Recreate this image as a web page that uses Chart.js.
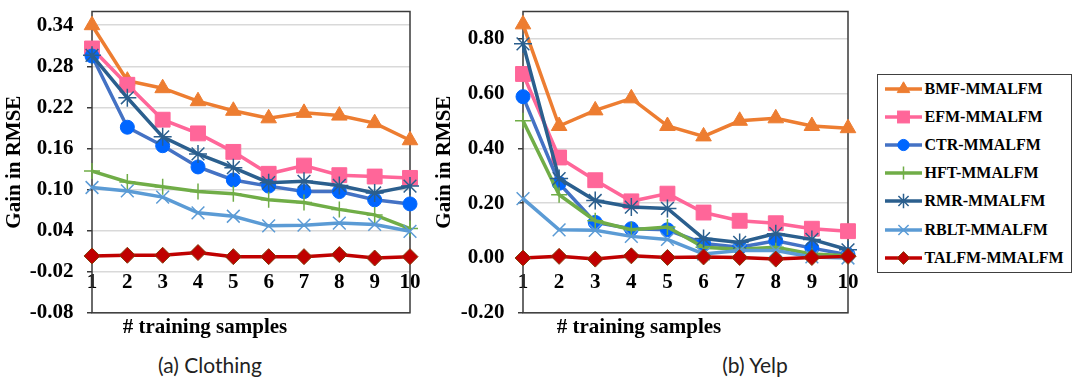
<!DOCTYPE html>
<html><head><meta charset="utf-8">
<script src="https://cdn.jsdelivr.net/npm/chart.js@4.4.1/dist/chart.umd.min.js"></script>
<style>
html,body{margin:0;padding:0;background:#fff;width:1078px;height:385px;overflow:hidden;position:relative;}
#wa{position:absolute;left:0;top:0;width:430px;height:340px;}
#wb{position:absolute;left:430px;top:0;width:440px;height:340px;}
.cap{position:absolute;top:352px;font-family:Lato,"Open Sans",sans-serif;font-size:21px;color:#222;transform:translateX(-50%);white-space:nowrap;}
#legend{position:absolute;left:877px;top:74px;width:195px;height:199px;border:1.5px solid #404040;box-sizing:border-box;}
.li{position:absolute;height:20px;display:flex;align-items:center;left:6.5px;}
.li span{font:bold 16px "Liberation Serif",serif;color:#000;margin-left:2px;white-space:nowrap;}
</style></head>
<body>
<div id="wa"><canvas id="ca"></canvas></div>
<div id="wb"><canvas id="cb"></canvas></div>
<div class="cap" style="left:210px">(a) Clothing</div>
<div class="cap" style="left:755px">(b) Yelp</div>
<div id="legend"></div>
<script>
// ---- data ----
const categories = ['1','2','3','4','5','6','7','8','9','10'];
const seriesNames = ['BMF-MMALFM','EFM-MMALFM','CTR-MMALFM','HFT-MMALFM','RMR-MMALFM','RBLT-MMALFM','TALFM-MMALFM'];

const clothingBMF   = [0.340,0.259,0.248,0.229,0.215,0.204,0.212,0.208,0.197,0.172];
const clothingEFM   = [0.306,0.253,0.202,0.182,0.155,0.123,0.135,0.121,0.119,0.117];
const clothingCTR   = [0.295,0.191,0.164,0.133,0.114,0.105,0.097,0.097,0.085,0.079];
const clothingHFT   = [0.127,0.111,0.104,0.097,0.094,0.085,0.081,0.071,0.063,0.043];
const clothingRMR   = [0.296,0.234,0.177,0.152,0.132,0.110,0.112,0.106,0.095,0.105];
const clothingRBLT  = [0.103,0.098,0.089,0.066,0.061,0.047,0.048,0.051,0.049,0.039];
const clothingTALFM = [0.003,0.004,0.004,0.008,0.002,0.002,0.002,0.005,0.000,0.002];

const yelpBMF   = [0.853,0.482,0.539,0.583,0.482,0.444,0.501,0.510,0.482,0.474];
const yelpEFM   = [0.672,0.367,0.284,0.207,0.235,0.166,0.136,0.127,0.107,0.098];
const yelpCTR   = [0.589,0.273,0.130,0.107,0.103,0.053,0.039,0.063,0.036,0.012];
const yelpHFT   = [0.501,0.231,0.136,0.103,0.113,0.039,0.032,0.039,0.015,0.008];
const yelpRMR   = [0.782,0.290,0.210,0.186,0.181,0.071,0.057,0.089,0.068,0.030];
const yelpRBLT  = [0.217,0.103,0.101,0.079,0.068,0.015,0.027,0.027,0.004,0.000];
const yelpTALFM = [0.000,0.006,-0.004,0.008,0.002,0.004,0.002,-0.004,0.002,0.006];

const clothingTicks = [-0.08,-0.02,0.04,0.10,0.16,0.22,0.28,0.34];
const yelpTicks = [-0.20,0.00,0.20,0.40,0.60,0.80];
const clothingRange = [-0.08,0.36];
const yelpRange = [-0.20,0.90];

const xTitle = '# training samples';
const yTitle = 'Gain in RMSE';

// ---- styles ----
const styles = [
  {line:'#ED7D31', fill:'#ED7D31', stroke:'#ED7D31', pt:'triangle', r:9,   bw:1},
  {line:'#FF6699', fill:'#FF6699', stroke:'#FF6699', pt:'rect',     r:10.5,bw:1},
  {line:'#4472C4', fill:'#0066FF', stroke:'#0066FF', pt:'circle',   r:7,   bw:1},
  {line:'#70AD47', fill:'#70AD47', stroke:'#70AD47', pt:'cross',    r:8,   bw:1.5},
  {line:'#2B5F8E', fill:'#2B5F8E', stroke:'#2B5F8E', pt:'star',     r:9,   bw:1.5},
  {line:'#5B9BD5', fill:'#5B9BD5', stroke:'#5B9BD5', pt:'crossRot', r:9,   bw:1.5},
  {line:'#C00000', fill:'#C00000', stroke:'#843C0C', pt:'rectRot',  r:8,   bw:1}
];
const FONT = {family:'Liberation Serif', weight:'bold', size:21};

const framePlugin = {
  id:'frame',
  beforeDatasetsDraw(chart){
    const a = chart.chartArea, c = chart.ctx;
    c.save(); c.strokeStyle = '#3a3a3a'; c.lineWidth = 1.5;
    c.strokeRect(a.left, a.top, a.right - a.left, a.bottom - a.top);
    c.restore();
  }
};

function makeChart(id, series, range, ticks, yW, padRight){
  const datasets = series.map((vals, i) => {
    const s = styles[i];
    return {
      label: seriesNames[i], data: vals,
      borderColor: s.line, borderWidth: 3.5, backgroundColor: s.fill,
      pointStyle: s.pt, pointRadius: s.r, pointBackgroundColor: s.fill,
      pointBorderColor: s.stroke, pointBorderWidth: s.bw,
      tension: 0, order: series.length - i
    };
  });
  return new Chart(document.getElementById(id), {
    type:'line',
    data:{labels: categories, datasets},
    plugins:[framePlugin],
    options:{
      responsive:true, maintainAspectRatio:false, animation:false,
      layout:{padding:{top:5, left:0, right:padRight, bottom:0}},
      plugins:{
        legend:{display:false}, tooltip:{enabled:false},
        title:{display:true, text:xTitle, position:'bottom', font:FONT, color:'#000', padding:{top:2,bottom:0}}
      },
      scales:{
        x:{
          type:'category', position:{y:0}, offset:false,
          grid:{display:false, drawTicks:false}, border:{display:false},
          ticks:{padding:12, font:FONT, color:'#000', maxRotation:0, autoSkip:false},
          afterFit(s){ s.paddingLeft = 0; s.paddingRight = 0; }
        },
        y:{
          min: range[0], max: range[1],
          afterBuildTicks(s){ s.ticks = ticks.map(v => ({value:v})); },
          afterFit(s){ s.width = yW; s.paddingTop = 0; s.paddingBottom = 0; },
          grid:{color:'#d9d9d9', lineWidth:1.5, drawTicks:true, tickLength:5, tickColor:'#3a3a3a', tickWidth:1.5},
          border:{display:false},
          ticks:{padding:13.5, font:FONT, color:'#000', callback:v => Number(v).toFixed(2)},
          title:{display:true, text:yTitle, font:FONT, color:'#000', padding:{top:2,bottom:0}}
        }
      }
    }
  });
}

makeChart('ca', [clothingBMF,clothingEFM,clothingCTR,clothingHFT,clothingRMR,clothingRBLT,clothingTALFM],
  clothingRange, clothingTicks, 92, 20);
makeChart('cb', [yelpBMF,yelpEFM,yelpCTR,yelpHFT,yelpRMR,yelpRBLT,yelpTALFM],
  yelpRange, yelpTicks, 93, 22);

// ---- HTML legend with drawn icons ----
function markerSVG(s){
  const cx = 18.5, cy = 10, k = 0.8, r = s.r * k;
  const f = s.fill, st = s.stroke;
  switch(s.pt){
    case 'triangle': {
      const p = [[cx, cy - r],[cx + r*0.866, cy + r/2],[cx - r*0.866, cy + r/2]];
      return `<polygon points="${p.map(q=>q.join(',')).join(' ')}" fill="${f}" stroke="${st}"/>`;
    }
    case 'rect': { const h = r*0.707; return `<rect x="${cx-h}" y="${cy-h}" width="${2*h}" height="${2*h}" fill="${f}" stroke="${st}"/>`; }
    case 'circle': return `<circle cx="${cx}" cy="${cy}" r="${r}" fill="${f}" stroke="${st}"/>`;
    case 'cross': return `<path d="M${cx-r} ${cy}H${cx+r}M${cx} ${cy-r}V${cy+r}" stroke="${st}" stroke-width="1.5"/>`;
    case 'crossRot': { const h = r*0.707; return `<path d="M${cx-h} ${cy-h}L${cx+h} ${cy+h}M${cx-h} ${cy+h}L${cx+h} ${cy-h}" stroke="${st}" stroke-width="1.5"/>`; }
    case 'star': { const h = r*0.707; return `<path d="M${cx-r} ${cy}H${cx+r}M${cx} ${cy-r}V${cy+r}M${cx-h} ${cy-h}L${cx+h} ${cy+h}M${cx-h} ${cy+h}L${cx+h} ${cy-h}" stroke="${st}" stroke-width="1.5"/>`; }
    case 'rectRot': return `<polygon points="${cx-r},${cy} ${cx},${cy-r} ${cx+r},${cy} ${cx},${cy+r}" fill="${f}" stroke="${st}"/>`;
  }
  return '';
}
const lg = document.getElementById('legend');
seriesNames.forEach((name, i) => {
  const s = styles[i];
  const d = document.createElement('div');
  d.className = 'li';
  d.style.top = (13.5 + i * 28.2 - 10) + 'px';
  d.innerHTML = `<svg width="38" height="20" viewBox="0 0 38 20"><line x1="0" y1="10" x2="37" y2="10" stroke="${s.line}" stroke-width="3.5"/>${markerSVG(s)}</svg><span>${name}</span>`;
  lg.appendChild(d);
});
</script>
</body></html>
